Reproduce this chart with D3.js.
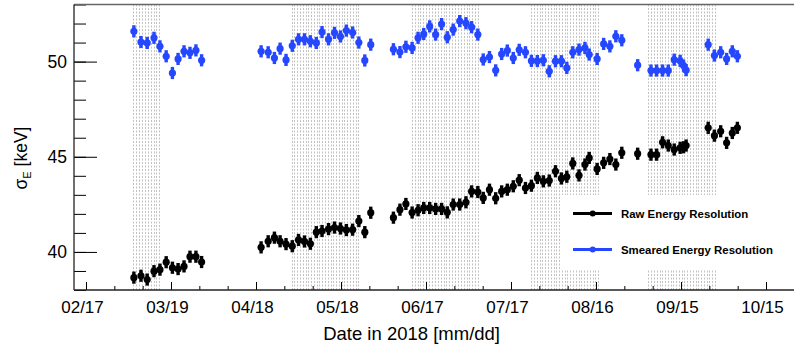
<!DOCTYPE html>
<html><head><meta charset="utf-8">
<script src="https://cdn.jsdelivr.net/npm/d3@7"></script>
<style>
html,body{margin:0;padding:0;background:#fff;}
svg{display:block;font-family:"Liberation Sans",Arial,Helvetica,sans-serif;}
</style></head>
<body>
<svg id="chart" width="794" height="347"></svg>
<script>
// ---- data (days since 2018-02-17) ----
const runDays = [
 16.9,19.4,21.6,24.0,26.1,28.3,30.5,32.5,34.6,36.7,38.8,40.8,
 61.8,64.3,66.5,68.5,70.6,72.8,75.0,77.1,79.2,81.3,83.3,85.6,87.7,89.8,91.9,94.1,96.3,98.4,100.5,
 108.5,110.8,112.9,115.1,117.2,119.2,121.3,123.4,125.5,127.5,129.6,131.9,134.1,136.1,138.3,140.2,142.4,144.6,146.7,148.7,
 150.8,152.9,155.1,157.2,159.3,161.4,163.5,165.7,167.8,169.7,171.8,174.0,176.1,177.6,180.4,182.7,184.9,187.0,189.1,
 194.7,
 199.4,201.4,203.5,205.5,207.6,209.7,210.9,211.8,
 219.6,221.8,224.0,226.1,228.1,229.9
];
const rawResolution = [
 38.65,38.75,38.55,38.99,39.07,39.46,39.17,39.10,39.24,39.75,39.75,39.47,
 40.24,40.56,40.75,40.56,40.41,40.30,40.63,40.55,40.43,41.04,41.10,41.20,41.28,41.23,41.15,41.17,41.62,41.04,42.06,
 41.80,42.22,42.52,42.07,42.19,42.31,42.31,42.26,42.26,42.08,42.49,42.49,42.61,43.18,43.15,42.84,43.27,42.82,43.18,43.27,
 43.45,43.77,43.36,43.48,43.89,43.71,43.75,44.24,43.86,43.95,44.65,44.02,44.59,44.94,44.36,44.68,44.88,44.59,45.21,
 45.16,
 45.11,45.11,45.76,45.59,45.38,45.47,45.50,45.59,
 46.52,46.11,46.34,45.73,46.25,46.52
];
const smearedResolution = [
 51.59,51.03,50.98,51.25,50.80,50.28,49.40,50.14,50.54,50.46,50.59,50.07,
 50.54,50.49,50.19,50.68,50.09,50.83,51.17,51.17,51.07,50.98,51.55,51.17,51.51,51.32,51.63,51.53,51.00,50.06,50.89,
 50.65,50.50,50.78,50.72,51.25,51.45,51.85,51.42,51.97,51.28,51.68,52.13,52.02,51.81,51.42,50.11,50.24,49.54,50.40,50.58,
 50.19,50.62,50.49,50.04,50.03,50.07,49.49,50.02,50.02,49.67,50.49,50.63,50.72,50.37,50.14,50.93,50.80,51.33,51.12,
 49.81,
 49.53,49.53,49.53,49.53,50.10,50.04,49.79,49.55,
 50.89,50.32,50.49,50.14,50.54,50.28
];
const errorKeV = 0.32;
// periods marked with daily dotted lines: [first day, last day]
const markedPeriods = [[16.7,25.9],[72.6,96.1],[115.0,138.4],[157.1,180.8],[198.5,222.0]];
const xTickDays = [0,30,60,90,120,150,180,210,240];
const xTickLabels = ["02/17","03/19","04/18","05/18","06/17","07/17","08/16","09/15","10/15"];
const yTickValues = [40,45,50];
const yTickLabels = ["40","45","50"];
const seriesNames = ["Raw Energy Resolution","Smeared Energy Resolution"];
const seriesColors = ["#000000","#2447ff"];

// ---- layout ----
const svg = d3.select("#chart");
const L = 74, R = 794, T = 4.5, B = 290;
const x = d3.scaleLinear().domain([-4.235, 249.88]).range([L, R]);
const y = d3.scaleLinear().domain([38, 53]).range([B, T]);

// dotted marker lines
const gLines = svg.append("g");
markedPeriods.forEach(([a,b]) => {
  const n = Math.round(b - a) + 1;
  const days = d3.range(n).map(i => a + i*(b-a)/(n-1));
  gLines.selectAll(null).data(days).enter().append("line")
    .attr("x1", d => Math.round(x(d)) + 0.5).attr("x2", d => Math.round(x(d)) + 0.5)
    .attr("y1", T).attr("y2", B)
    .attr("stroke", "#b4b4b4").attr("stroke-width", 0.8)
    .attr("stroke-dasharray", "2,1.5");
});

// legend background (covers lines)
svg.append("rect").attr("x", 562).attr("y", 195).attr("width", R-562).attr("height", 75).attr("fill", "#fff");

// axes
const xMinor = d3.axisBottom(x).tickValues(d3.range(0, 250, 10)).tickSize(-4).tickFormat("");
const xMajor = d3.axisBottom(x).tickValues(xTickDays).tickSize(-8).tickPadding(11)
  .tickFormat((d,i) => xTickLabels[i]);
const gxm = svg.append("g").attr("transform", `translate(0,${B})`).call(xMinor);
gxm.select(".domain").remove();
const gx = svg.append("g").attr("transform", `translate(0,${B})`).call(xMajor);
gx.select(".domain").remove();
gx.selectAll("text").attr("font-size", 17).attr("dx", -4).attr("fill", "#000").attr("font-family", "Liberation Sans, Arial, sans-serif");
svg.selectAll(".tick line").attr("stroke", "#000");

const yMinor = d3.axisLeft(y).tickValues(d3.range(38, 53.01, 1)).tickSize(-12).tickFormat("");
const yMajor = d3.axisLeft(y).tickValues(yTickValues).tickSize(-23).tickPadding(7)
  .tickFormat((d,i) => yTickLabels[i]);
const gym = svg.append("g").attr("transform", `translate(${L},0)`).call(yMinor);
gym.select(".domain").remove();
const gy = svg.append("g").attr("transform", `translate(${L},0)`).call(yMajor);
gy.select(".domain").remove();
gy.selectAll("text").attr("font-size", 17.5).attr("fill", "#000").attr("font-family", "Liberation Sans, Arial, sans-serif");
svg.selectAll(".tick line").attr("stroke", "#000");

// frame
svg.append("line").attr("x1", L).attr("x2", R).attr("y1", T).attr("y2", T).attr("stroke", "#666").attr("stroke-width", 1.5);
svg.append("line").attr("x1", L).attr("x2", L).attr("y1", T).attr("y2", B).attr("stroke", "#222").attr("stroke-width", 1.3);
svg.append("line").attr("x1", L).attr("x2", R).attr("y1", B).attr("y2", B).attr("stroke", "#222").attr("stroke-width", 1.3);

// data
const pts = runDays.map((d,i) => ({d, raw: rawResolution[i], sm: smearedResolution[i]}));
function drawSeries(key, color) {
  const g = svg.append("g");
  g.selectAll("line").data(pts).enter().append("line")
    .attr("x1", p => x(p.d)).attr("x2", p => x(p.d))
    .attr("y1", p => y(p[key] - errorKeV)).attr("y2", p => y(p[key] + errorKeV))
    .attr("stroke", color).attr("stroke-width", 3.4);
  g.selectAll("circle").data(pts).enter().append("circle")
    .attr("cx", p => x(p.d)).attr("cy", p => y(p[key])).attr("r", 3.6).attr("fill", color);
}
drawSeries("sm", seriesColors[1]);
drawSeries("raw", seriesColors[0]);

// legend
const legY = [213.5, 249.5];
seriesNames.forEach((name, i) => {
  const g = svg.append("g");
  g.append("line").attr("x1", 573).attr("x2", 612).attr("y1", legY[i]).attr("y2", legY[i])
    .attr("stroke", seriesColors[i]).attr("stroke-width", 3);
  g.append("circle").attr("cx", 592.7).attr("cy", legY[i]).attr("r", 3).attr("fill", seriesColors[i]);
  g.append("text").attr("x", 621).attr("y", legY[i] + 4).attr("font-size", 11.4).attr("font-weight", "bold")
    .attr("fill", "#000").text(name);
});

// axis titles
svg.append("text").attr("x", 500).attr("y", 340).attr("text-anchor", "end").attr("font-size", 18.5)
  .attr("fill", "#000").text("Date in 2018 [mm/dd]");
const yt = svg.append("text").attr("transform", "translate(27,158) rotate(-90)").attr("text-anchor", "middle")
  .attr("font-size", 17.5).attr("fill", "#000");
yt.append("tspan").text("σ");
yt.append("tspan").attr("font-size", 11).attr("dy", 4).text("E");
yt.append("tspan").attr("dy", -4).text(" [keV]");
</script>
</body></html>
